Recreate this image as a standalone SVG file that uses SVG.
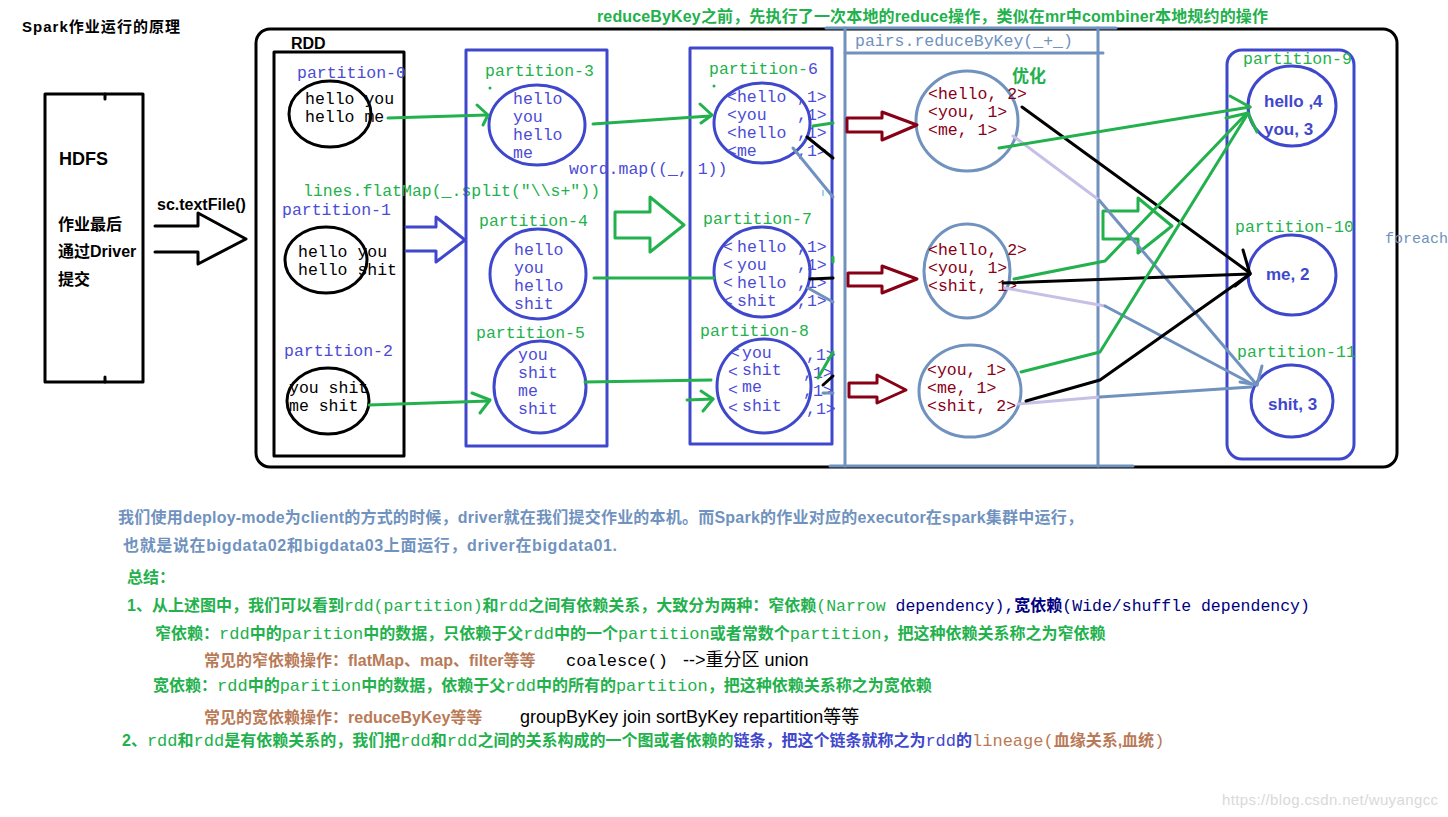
<svg xmlns="http://www.w3.org/2000/svg" width="1448" height="817" viewBox="0 0 1448 817">
<style>
.sans{font-family:"Liberation Sans","Noto Sans CJK SC",sans-serif}
.b{font-weight:bold}
.mono{font-family:"Liberation Mono","Courier New","Noto Sans CJK SC",monospace;font-weight:normal}
.m16{font-size:16.5px}
.blue{fill:#4b4bd6}
.green{fill:#22b14c}
.red{fill:#880015}
.gbf{fill:#7092be}
.navy{fill:#000080}
.brown{fill:#b97a57}
.blk{fill:#000}
.ln{fill:none;stroke-linecap:round;stroke-linejoin:round}
.kb{stroke:#000;stroke-width:3}
.bb{stroke:#3f48cc;stroke-width:3}
.gs{stroke:#22b14c;stroke-width:3}
.gbs{stroke:#7092be;stroke-width:3}
.lv{stroke:#c8bfe7;stroke-width:3}
.rs{stroke:#880015;stroke-width:3}
.res{font-family:"Liberation Sans",sans-serif;font-weight:bold;font-size:17px;fill:#3f48cc}
</style>
<rect width="1448" height="817" fill="#fff"/>

<g id="title"><text x="22" y="32" class="sans b" font-size="15" textLength="158">Spark作业运行的原理</text></g>
<g id="top-note"><text x="597" y="22" class="sans b green" font-size="16" textLength="671">reduceByKey之前，先执行了一次本地的reduce操作，类似在mr中combiner本地规约的操作</text></g>

<g id="hdfs">
<rect x="45" y="94" width="98" height="288" class="ln kb"/>
<line x1="105" y1="94" x2="105" y2="99" class="ln kb"/>
<line x1="105" y1="377" x2="105" y2="382" class="ln kb"/>
<text x="59" y="165" class="sans b" font-size="18">HDFS</text>
<text x="58" y="230" class="sans b" font-size="16">作业最后</text>
<text x="58" y="257" class="sans b" font-size="16">通过Driver</text>
<text x="58" y="285" class="sans b" font-size="16">提交</text>
</g>

<g id="textfile-label"><text x="157" y="210" class="sans b" font-size="16">sc.textFile()</text></g>

<g id="frame">
<rect x="256" y="29" width="1141" height="438" rx="14" class="ln kb"/>
</g>

<g id="rdd">
<text x="291" y="49" class="sans b" font-size="16">RDD</text>
<rect x="274" y="52" width="130" height="404" class="ln kb"/>
</g>
<g id="p0">
<text x="297" y="78" class="mono m16 blue">partition-0</text>
<ellipse cx="330" cy="114" rx="41" ry="33" class="ln kb"/>
<text x="305" y="104" class="mono m16 blk">hello you</text>
<text x="305" y="122" class="mono m16 blk">hello me</text>
</g>
<g id="p1">
<text x="282" y="215" class="mono m16 blue">partition-1</text>
<ellipse cx="326" cy="260" rx="41" ry="33" class="ln kb"/>
<text x="298" y="257" class="mono m16 blk">hello you</text>
<text x="298" y="275" class="mono m16 blk">hello shit</text>
</g>
<g id="p2">
<text x="284" y="356" class="mono m16 blue">partition-2</text>
<ellipse cx="328" cy="401" rx="41" ry="33" class="ln kb"/>
<text x="289" y="393" class="mono m16 blk">you shit</text>
<text x="289" y="411" class="mono m16 blk">me shit</text>
</g>

<g id="flatmap-label"><text x="303" y="196" class="mono m16 green">lines.flatMap(_.split("\\s+"))</text></g>

<g id="words-box">
<rect x="466" y="50" width="141" height="396" class="ln bb"/>
</g>
<g id="p3">
<text x="485" y="76" class="mono m16 green">partition-3</text>
<circle cx="490" cy="88" r="1.5" fill="#22b14c"/>
<ellipse cx="537" cy="125" rx="48" ry="40" class="ln bb"/>
<text x="513" y="104" class="mono m16 blue">hello</text>
<text x="513" y="122" class="mono m16 blue">you</text>
<text x="513" y="140" class="mono m16 blue">hello</text>
<text x="513" y="158" class="mono m16 blue">me</text>
</g>
<g id="p4">
<text x="479" y="226" class="mono m16 green">partition-4</text>
<ellipse cx="538" cy="274" rx="48" ry="45" class="ln bb"/>
<text x="514" y="255" class="mono m16 blue">hello</text>
<text x="514" y="273" class="mono m16 blue">you</text>
<text x="514" y="291" class="mono m16 blue">hello</text>
<text x="514" y="309" class="mono m16 blue">shit</text>
</g>
<g id="p5">
<text x="476" y="338" class="mono m16 green">partition-5</text>
<ellipse cx="540" cy="387" rx="46" ry="46" class="ln bb"/>
<text x="518" y="360" class="mono m16 blue">you</text>
<text x="518" y="378" class="mono m16 blue">shit</text>
<text x="518" y="396" class="mono m16 blue">me</text>
<text x="518" y="414" class="mono m16 blue">shit</text>
</g>

<g id="map-label"><text x="569" y="174" class="mono m16 blue">word.map((_, 1))</text></g>

<g id="pairs-box">
<rect x="690" y="48" width="142" height="396" class="ln bb"/>
</g>
<g id="p6">
<text x="709" y="74" class="mono m16 green">partition-<tspan class="blue">6</tspan></text>
<circle cx="714" cy="86" r="1.5" fill="#22b14c"/>
<ellipse cx="762" cy="123" rx="48" ry="40" class="ln bb"/>
<text y="102" class="mono m16 blue"><tspan x="727">&lt;hello</tspan><tspan x="797">,1&gt;</tspan></text>
<text y="120" class="mono m16 blue"><tspan x="727">&lt;you</tspan><tspan x="797">,1&gt;</tspan></text>
<text y="138" class="mono m16 blue"><tspan x="727">&lt;hello</tspan><tspan x="797">,1&gt;</tspan></text>
<text y="156" class="mono m16 blue"><tspan x="727">&lt;me</tspan><tspan x="797">,1&gt;</tspan></text>
</g>
<g id="p7">
<text x="703" y="224" class="mono m16 green">partition-7</text>
<ellipse cx="762" cy="272" rx="48" ry="45" class="ln bb"/>
<text y="252" class="mono m16 blue"><tspan x="723">&lt;</tspan><tspan x="737">hello</tspan><tspan x="797">,1&gt;</tspan></text>
<text y="270" class="mono m16 blue"><tspan x="723">&lt;</tspan><tspan x="737">you</tspan><tspan x="797">,1&gt;</tspan></text>
<text y="288" class="mono m16 blue"><tspan x="723">&lt;</tspan><tspan x="737">hello</tspan><tspan x="797">,1&gt;</tspan></text>
<text y="306" class="mono m16 blue"><tspan x="723">&lt;</tspan><tspan x="737">shit</tspan><tspan x="797">,1&gt;</tspan></text>
</g>
<g id="p8">
<text x="700" y="336" class="mono m16 green">partition-8</text>
<ellipse cx="764" cy="386" rx="47" ry="47" class="ln bb"/>
<text class="mono m16 blue"><tspan x="730" y="358">&lt;</tspan><tspan x="742" y="358">you</tspan><tspan x="806" y="360">,1&gt;</tspan></text>
<text class="mono m16 blue"><tspan x="728" y="377">&lt;</tspan><tspan x="742" y="375">shit</tspan><tspan x="803" y="378">,1&gt;</tspan></text>
<text class="mono m16 blue"><tspan x="728" y="395">&lt;</tspan><tspan x="742" y="392">me</tspan><tspan x="803" y="396">,1&gt;</tspan></text>
<text class="mono m16 blue"><tspan x="728" y="413">&lt;</tspan><tspan x="742" y="411">shit</tspan><tspan x="806" y="414">,1&gt;</tspan></text>
</g>

<g id="reduce-box">
<line x1="845" y1="28" x2="845" y2="466" class="ln gbs"/>
<line x1="1098" y1="28" x2="1098" y2="466" class="ln gbs"/>
<line x1="826" y1="28" x2="1116" y2="28" class="ln gbs"/>
<line x1="845" y1="53" x2="1103" y2="53" class="ln gbs"/>
<line x1="830" y1="466" x2="1133" y2="466" class="ln gbs"/>
<text x="855" y="46" class="mono m16 gbf">pairs.reduceByKey(_+_)</text>
<text x="1012" y="82" class="sans b green" font-size="17">优化</text>
</g>
<g id="rA">
<ellipse cx="967" cy="121" rx="51" ry="50" class="ln gbs"/>
<text x="928" y="99" class="mono m16 red">&lt;hello, 2&gt;</text>
<text x="928" y="117" class="mono m16 red">&lt;you, 1&gt;</text>
<text x="928" y="135" class="mono m16 red">&lt;me, 1&gt;</text>
</g>
<g id="rB">
<ellipse cx="967" cy="271" rx="43" ry="47" class="ln gbs"/>
<text x="928" y="255" class="mono m16 red">&lt;hello, 2&gt;</text>
<text x="928" y="273" class="mono m16 red">&lt;you, 1&gt;</text>
<text x="928" y="291" class="mono m16 red">&lt;shit, 1&gt;</text>
</g>
<g id="rC">
<ellipse cx="970" cy="391" rx="51" ry="46" class="ln gbs"/>
<text x="927" y="375" class="mono m16 red">&lt;you, 1&gt;</text>
<text x="927" y="393" class="mono m16 red">&lt;me, 1&gt;</text>
<text x="927" y="411" class="mono m16 red">&lt;shit, 2&gt;</text>
</g>

<g id="result-box">
<rect x="1227" y="50" width="127" height="409" rx="15" class="ln bb"/>
</g>
<g id="p9">
<text x="1243" y="64" class="mono m16 green">partition-9</text>
<ellipse cx="1292" cy="106" rx="44" ry="40" class="ln bb"/>
<text x="1264" y="107" class="res">hello ,4</text>
<text x="1264" y="135" class="res">you, 3</text>
</g>
<g id="p10">
<text x="1235" y="232" class="mono m16 green">partition-10</text>
<ellipse cx="1292" cy="275" rx="44" ry="40" class="ln bb"/>
<text x="1266" y="280" class="res">me, 2</text>
</g>
<g id="p11">
<text x="1237" y="357" class="mono m16 green">partition-11</text>
<ellipse cx="1292" cy="401" rx="41" ry="36" class="ln bb"/>
<text x="1268" y="410" class="res">shit, 3</text>
</g>
<g id="foreach-label"><text x="1385" y="243" class="mono gbf" font-size="15">foreach</text></g>

<g id="connectors">
<polyline points="155,226 198,226 198,213 246,239 198,264 198,252 155,252" class="ln kb"/>
<polyline points="406,227 436,227 436,217 465,240 436,262 436,251 406,251" class="ln bb"/>
<polygon points="615,212 650,212 650,197 684,225 650,252 650,238 615,238" class="ln gs"/>
<polygon points="847,118 882,118 882,112 917,125 882,140 882,132 847,132" class="ln rs"/>
<polygon points="848,273 882,273 882,266 917,279 882,293 882,286 848,286" class="ln rs"/>
<polygon points="849,383 877,383 877,375 906,390 877,403 877,397 849,397" class="ln rs"/>
<polygon points="1103,211 1138,211 1138,198 1172,226 1138,253 1138,239 1103,239" class="ln gs"/>

<line x1="388" y1="118" x2="487" y2="115" class="ln gs"/>
<polyline points="477,105 488,115 483,125" class="ln gs"/>
<line x1="593" y1="124" x2="710" y2="116" class="ln gs"/>
<polyline points="700,104 712,115 701,123" class="ln gs"/>
<line x1="594" y1="278" x2="714" y2="278" class="ln gs"/>
<line x1="369" y1="405" x2="489" y2="401" class="ln gs"/>
<polyline points="472,393 490,400 480,413" class="ln gs"/>
<line x1="585" y1="382" x2="711" y2="380" class="ln gs"/>
<line x1="687" y1="400" x2="713" y2="399" class="ln gs"/>
<polyline points="701,391 713,399 703,411" class="ln gs"/>

<line x1="813" y1="126" x2="833" y2="123" class="ln gs"/>
<line x1="807" y1="137" x2="833" y2="158" class="ln kb"/>
<line x1="793" y1="148" x2="833" y2="197" class="ln gbs"/>
<line x1="823" y1="190" x2="823" y2="196" stroke="#99d9ea" stroke-width="2"/>
<line x1="833" y1="257" x2="833" y2="262" class="ln gs"/>
<line x1="810" y1="279" x2="833" y2="278" class="ln kb"/>
<line x1="808" y1="288" x2="833" y2="302" class="ln gbs"/>
<line x1="818" y1="378" x2="833" y2="352" class="ln gs"/>
<line x1="823" y1="385" x2="833" y2="376" class="ln kb"/>
<line x1="823" y1="393" x2="833" y2="393" class="ln gbs"/>

<line x1="1013" y1="136" x2="1099" y2="200" class="ln lv"/>
<line x1="1099" y1="200" x2="1257" y2="385" class="ln gbs"/>
<line x1="1005" y1="288" x2="1105" y2="306" class="ln lv"/>
<line x1="1105" y1="306" x2="1252" y2="384" class="ln gbs"/>
<line x1="1018" y1="404" x2="1100" y2="397" class="ln lv"/>
<line x1="1100" y1="397" x2="1251" y2="387" class="ln gbs"/>
<polyline points="1262,366 1257,385 1240,382" class="ln gbs"/>

<line x1="1022" y1="107" x2="1250" y2="273" class="ln kb"/>
<line x1="1003" y1="283" x2="1250" y2="274" class="ln kb"/>
<polyline points="1026,401 1100,380 1250,274" class="ln kb"/>
<polyline points="1243,250 1250,274 1235,286" class="ln kb"/>

<line x1="999" y1="148" x2="1250" y2="107" class="ln gs"/>
<polyline points="1014,279 1105,261 1247,113" class="ln gs"/>
<polyline points="1021,372 1100,352 1247,115" class="ln gs"/>
<polyline points="1230,96 1250,107" class="ln gs"/>
<polyline points="1226,118 1248,113 1257,132" class="ln gs"/>
</g>

<g id="notes">
<text x="118" y="523" class="sans b gbf" font-size="16" textLength="965">我们使用deploy-mode为client的方式的时候，driver就在我们提交作业的本机。而Spark的作业对应的executor在spark集群中运行，</text>
<text x="123" y="551" class="sans b gbf" font-size="16" textLength="494">也就是说在bigdata02和bigdata03上面运行，driver在bigdata01.</text>
<text x="127" y="583" class="sans b green" font-size="16">总结：</text>
<text y="611" class="sans b green" font-size="16"><tspan x="127">1、从上述图中，我们可以看到</tspan><tspan class="mono" font-size="16.5">rdd(partition)</tspan><tspan>和</tspan><tspan class="mono" font-size="16.5">rdd</tspan><tspan>之间有依赖关系，大致分为两种：窄依赖</tspan><tspan class="mono" font-size="16.5">(Narrow</tspan><tspan class="mono navy" font-size="16.5"> dependency),</tspan><tspan class="navy">宽依赖</tspan><tspan class="mono navy" font-size="16.5">(Wide/shuffle dependency)</tspan></text>
<text y="639" class="sans b green" font-size="16"><tspan x="155">窄依赖：</tspan><tspan class="mono" font-size="17">rdd</tspan><tspan>中的</tspan><tspan class="mono" font-size="17">parition</tspan><tspan>中的数据，只依赖于父</tspan><tspan class="mono" font-size="17">rdd</tspan><tspan>中的一个</tspan><tspan class="mono" font-size="17">partition</tspan><tspan>或者常数个</tspan><tspan class="mono" font-size="17">partition</tspan><tspan>，把这种依赖关系称之为窄依赖</tspan></text>
<text y="666" class="sans b brown" font-size="16"><tspan x="204">常见的窄依赖操作：flatMap、map、filter等等</tspan></text>
<text y="666" class="blk"><tspan x="566" class="mono" font-size="17">coalesce()</tspan><tspan x="683" class="sans" font-size="18">--&gt;重分区 union</tspan></text>
<text y="691" class="sans b green" font-size="16"><tspan x="153">宽依赖：</tspan><tspan class="mono" font-size="17">rdd</tspan><tspan>中的</tspan><tspan class="mono" font-size="17">parition</tspan><tspan>中的数据，依赖于父</tspan><tspan class="mono" font-size="17">rdd</tspan><tspan>中的所有的</tspan><tspan class="mono" font-size="17">partition</tspan><tspan>，把这种依赖关系称之为宽依赖</tspan></text>
<text x="204" y="723" class="sans b brown" font-size="16">常见的宽依赖操作：reduceByKey等等</text>
<text x="520" y="723" class="sans blk" font-size="18">groupByKey join sortByKey repartition等等</text>
<text y="746" class="sans b green" font-size="16"><tspan x="122">2、</tspan><tspan class="mono" font-size="17">rdd</tspan><tspan>和</tspan><tspan class="mono" font-size="17">rdd</tspan><tspan>是有依赖关系的，我们把</tspan><tspan class="mono" font-size="17">rdd</tspan><tspan>和</tspan><tspan class="mono" font-size="17">rdd</tspan><tspan>之间的关系构成的一个图或者依赖的</tspan><tspan fill="#3f48cc">链条，把这个链条就称之为</tspan><tspan class="mono" fill="#3f48cc" font-size="17">rdd</tspan><tspan fill="#3f48cc">的</tspan><tspan class="mono brown" font-size="17">lineage(</tspan><tspan class="brown">血缘关系,血统</tspan><tspan class="mono brown" font-size="17">)</tspan></text>
<text x="1222" y="805" class="sans" font-size="15" fill="#d9d9d9" textLength="216">https://blog.csdn.net/wuyangcc</text>
</g>
</svg>
